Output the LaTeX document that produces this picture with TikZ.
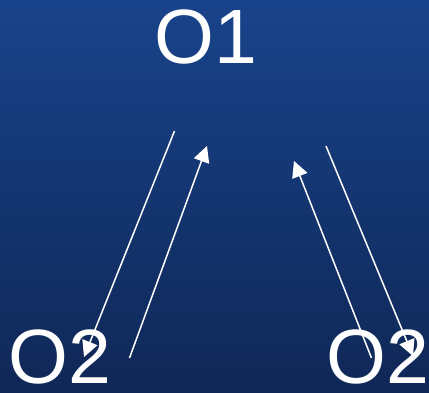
\documentclass[tikz,border=0pt]{standalone}
\usepackage{fontspec}
\setmainfont{Liberation Sans}
\usetikzlibrary{arrows.meta}
\definecolor{bgtop}{RGB}{25,67,139}
\definecolor{bgbot}{RGB}{15,39,86}
\tikzset{
  lbl/.style={text=white, inner sep=0pt, font=\fontsize{77}{90}\selectfont},
  conn/.style={draw=white, line width=1.5pt, -{Triangle[length=16pt,width=16pt]}}
}
\begin{document}
\begin{tikzpicture}[x=1pt,y=-1pt]
\useasboundingbox (0,0) rectangle (429,392);
\shade[top color=bgtop, bottom color=bgbot] (0,0) rectangle (429,392);
\node[lbl] (o1) at (206,37) {O1};
\node[lbl] (o2l) at (60,357) {O2};
\node[lbl] (o2r) at (378,357) {O2};
\coordinate (a1) at (174.5,131);
\coordinate (a2) at (84,357);
\coordinate (b1) at (129.5,358);
\coordinate (b2) at (207,146);
\coordinate (c1) at (371.5,358);
\coordinate (c2) at (294,161);
\coordinate (d1) at (326,146);
\coordinate (d2) at (413,356);
\draw[conn] (a1) -- (a2);
\draw[conn] (b1) -- (b2);
\draw[conn] (c1) -- (c2);
\draw[conn] (d1) -- (d2);
\end{tikzpicture}
\end{document}
